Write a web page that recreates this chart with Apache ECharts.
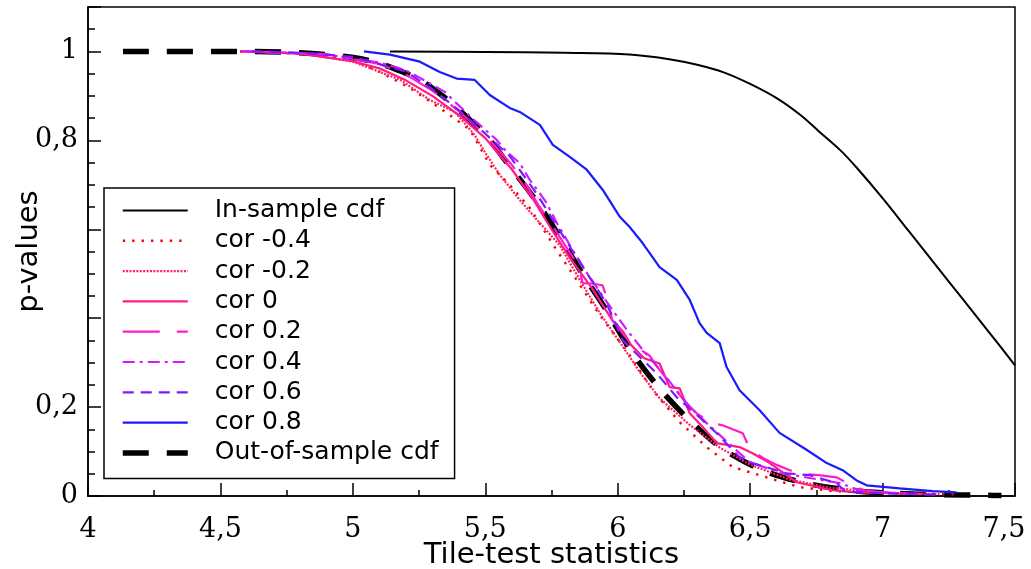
<!DOCTYPE html>
<html>
<head>
<meta charset="utf-8">
<script src="https://cdn.jsdelivr.net/npm/echarts@6/dist/echarts.min.js"></script>
<style>
html,body{margin:0;padding:0;background:#fff;}
#chart{width:1031px;height:569px;}
</style>
</head>
<body>
<div id="chart"></div>
<script>
// ---- Tick labels ----
const xTickValues = [4, 4.5, 5, 5.5, 6, 6.5, 7, 7.5];
const xTickLabels = ['4', '4,5', '5', '5,5', '6', '6,5', '7', '7,5'];
const yTickValues = [0, 0.2, 0.8, 1];
const yTickLabels = ['0', '0,2', '0,8', '1'];

// ---- Series names ----
const seriesNames = ['In-sample cdf', 'cor -0.4', 'cor -0.2', 'cor 0', 'cor 0.2', 'cor 0.4', 'cor 0.6', 'cor 0.8', 'Out-of-sample cdf'];

// ---- Series values [statistic, p-value] ----
const inSample = [[5.14,1.0],[5.5,0.999],[5.8,0.997],[6.045,0.993],[6.2,0.982],[6.3,0.970],[6.4,0.953],[6.5,0.927],[6.6,0.895],[6.69,0.857],[6.76,0.82],[6.84,0.778],[6.9,0.74],[7.0,0.67],[7.1,0.595],[7.2,0.52],[7.3,0.445],[7.4,0.37],[7.5,0.294]];

const corM04 = [[4.574,1.0],[4.8,0.995],[4.996,0.982],[5.102,0.954],[5.215,0.918],[5.328,0.873],[5.442,0.824],[5.517,0.745],[5.592,0.700],[5.668,0.648],[5.762,0.560],[5.857,0.475],[5.932,0.407],[5.989,0.362],[6.045,0.317],[6.132,0.238],[6.234,0.166],[6.336,0.110],[6.434,0.065],[6.6,0.035],[6.687,0.020],[6.811,0.011],[6.94,0.008],[7.09,0.006],[7.272,0.004]];

const corM02 = [[4.59,1.0],[4.8,0.996],[5.0,0.977],[5.18,0.936],[5.29,0.891],[5.385,0.864],[5.46,0.812],[5.498,0.774],[5.555,0.722],[5.63,0.666],[5.706,0.614],[5.78,0.565],[5.857,0.486],[5.932,0.412],[6.008,0.346],[6.083,0.279],[6.158,0.220],[6.272,0.160],[6.385,0.109],[6.498,0.071],[6.649,0.037],[6.8,0.019],[6.989,0.008],[7.215,0.004]];

const cor0 = [[4.58,1.0],[4.8,0.995],[5.0,0.978],[5.1,0.962],[5.2,0.935],[5.3,0.900],[5.4,0.857],[5.5,0.805],[5.55,0.77],[5.6,0.735],[5.68,0.668],[5.75,0.600],[5.82,0.535],[5.9,0.470],[5.98,0.395],[6.02,0.370],[6.05,0.340],[6.1,0.310],[6.158,0.298],[6.196,0.245],[6.234,0.242],[6.272,0.186],[6.321,0.155],[6.374,0.119],[6.46,0.110],[6.509,0.096],[6.536,0.087],[6.574,0.074],[6.675,0.031],[6.811,0.013],[6.9,0.008],[7.0,0.007],[7.1,0.005]];

const cor02 = [[4.6,1.0],[4.9,0.994],[5.1,0.972],[5.2,0.948],[5.3,0.912],[5.4,0.866],[5.5,0.812],[5.6,0.745],[5.65,0.705],[5.7,0.655],[5.75,0.612],[5.8,0.565],[5.85,0.52],[5.868,0.479],[5.9,0.478],[5.943,0.474],[5.958,0.447],[5.98,0.395],[6.03,0.357],[6.07,0.335],[6.12,0.316],[6.15,0.29],[6.19,0.26],[6.25,0.215],[6.3,0.185],[6.347,0.166],[6.396,0.159],[6.472,0.141],[6.5,0.105],[6.55,0.085],[6.6,0.07],[6.65,0.058],[6.687,0.050],[6.76,0.047],[6.826,0.042],[6.87,0.028],[6.93,0.013],[7.0,0.008],[7.15,0.004]];

const cor04 = [[4.58,1.0],[4.7,0.999],[4.9,0.992],[5.1,0.975],[5.196,0.959],[5.264,0.937],[5.347,0.909],[5.45,0.850],[5.543,0.801],[5.581,0.774],[5.63,0.749],[5.668,0.711],[5.706,0.681],[5.732,0.659],[5.77,0.614],[5.808,0.576],[5.83,0.553],[5.88,0.505],[5.958,0.437],[6.034,0.374],[6.094,0.329],[6.17,0.277],[6.272,0.200],[6.336,0.164],[6.42,0.118],[6.498,0.076],[6.623,0.051],[6.73,0.040],[6.838,0.029],[6.913,0.013],[7.0,0.008],[7.1,0.005]];

const cor06 = [[4.62,1.0],[4.8,0.997],[5.0,0.988],[5.2,0.955],[5.3,0.915],[5.4,0.868],[5.5,0.815],[5.592,0.765],[5.694,0.680],[5.781,0.597],[5.845,0.537],[5.958,0.433],[6.019,0.350],[6.147,0.276],[6.223,0.222],[6.309,0.177],[6.374,0.141],[6.46,0.087],[6.509,0.074],[6.638,0.051],[6.725,0.047],[6.826,0.029],[6.86,0.010],[7.0,0.006],[7.2,0.003]];

const cor08 = [[5.042,1.0],[5.14,0.993],[5.253,0.977],[5.328,0.954],[5.392,0.939],[5.46,0.936],[5.517,0.902],[5.592,0.873],[5.63,0.864],[5.706,0.835],[5.755,0.790],[5.819,0.763],[5.883,0.734],[5.943,0.689],[6.008,0.628],[6.045,0.605],[6.094,0.569],[6.158,0.515],[6.223,0.486],[6.272,0.441],[6.309,0.389],[6.336,0.367],[6.385,0.344],[6.411,0.290],[6.46,0.238],[6.536,0.193],[6.611,0.142],[6.713,0.104],[6.789,0.074],[6.849,0.058],[6.902,0.035],[6.94,0.024],[7.064,0.017],[7.189,0.011],[7.279,0.008]];

const outSample = [[4.132,1.0],[4.592,1.0],[4.8,0.997],[4.996,0.987],[5.09,0.975],[5.166,0.959],[5.253,0.936],[5.347,0.896],[5.442,0.846],[5.517,0.801],[5.574,0.756],[5.687,0.668],[5.781,0.583],[5.86,0.506],[5.955,0.420],[6.053,0.324],[6.158,0.242],[6.272,0.170],[6.404,0.103],[6.555,0.056],[6.709,0.029],[6.875,0.013],[7.053,0.006],[7.215,0.003],[7.396,0.0015],[7.449,0.001]];

const seriesData = [inSample, corM04, corM02, cor0, cor02, cor04, cor06, cor08, outSample];

// ---- Styles ----
const seriesStyles = [
  {color:'#000000', width:2, type:'solid', z:3, smooth:0.35},
  {color:'#ff0000', width:2.4, type:[2.4,7], z:3, smooth:false},
  {color:'#ff1f5a', width:2.2, type:[2,1.4], z:3, smooth:false},
  {color:'#ff1a85', width:2.2, type:'solid', z:3, smooth:false},
  {color:'#ff1acb', width:2.2, type:[37,17], z:3, smooth:false},
  {color:'#d21aff', width:2.2, type:[12,5,3,5], z:3, smooth:false},
  {color:'#7f1aff', width:2.2, type:[11,7], z:3, smooth:false},
  {color:'#1a1aff', width:2.2, type:'solid', z:3, smooth:false},
  {color:'#000000', width:5.5, type:[26,18], z:2, smooth:0.3}
];

function labelFor(values, labels, v) {
  for (let i = 0; i < values.length; i++) {
    if (Math.abs(values[i] - v) < 1e-9) return labels[i];
  }
  return '';
}

const chart = echarts.init(document.getElementById('chart'), null, {renderer:'canvas'});
const series = seriesNames.map((name, i) => ({
  name: name,
  type: 'line',
  data: seriesData[i],
  symbol: 'none',
  showSymbol: false,
  smooth: seriesStyles[i].smooth,
  z: seriesStyles[i].z,
  lineStyle: {color: seriesStyles[i].color, width: seriesStyles[i].width, type: seriesStyles[i].type, cap: 'butt'},
  itemStyle: {color: seriesStyles[i].color},
  emphasis: {disabled: true}
}));

const option = {
  animation: false,
  backgroundColor: '#ffffff',
  grid: {left: 88, right: 16, top: 7, bottom: 73, show: true, borderColor: '#000', borderWidth: 1.5, backgroundColor: 'transparent', containLabel: false, outerBoundsMode: 'none'},
  legend: {
    data: seriesNames,
    orient: 'vertical',
    left: 104,
    top: 188,
    padding: [10, 16, 13, 16],
    itemWidth: 65,
    itemHeight: 25,
    itemGap: 5.3,
    borderColor: '#000',
    borderWidth: 1.5,
    backgroundColor: '#fff',
    selectedMode: false,
    itemStyle: {opacity: 0},
    lineStyle: {width: 'inherit'},
    textStyle: {fontFamily: 'DejaVu Sans', fontSize: 25, color: '#000', lineHeight: 25, padding: [0, 0, 0, 22]}
  },
  xAxis: {
    type: 'value',
    min: 4, max: 7.5, interval: 0.5,
    name: 'Tile-test statistics',
    nameLocation: 'middle',
    nameGap: 45,
    nameMoveOverlap: false,
    nameTextStyle: {fontFamily: 'DejaVu Sans', fontSize: 29, color: '#000'},
    axisLine: {show: true, onZero: false, lineStyle: {color: '#000', width: 1.5}},
    axisTick: {show: true, inside: true, length: 13, lineStyle: {color: '#000', width: 1.5}},
    minorTick: {show: true, splitNumber: 2, length: 6, lineStyle: {color: '#000', width: 1.5}},
    splitLine: {show: false},
    axisLabel: {
      margin: 20,
      fontFamily: 'DejaVu Serif', fontSize: 27, color: '#000',
      formatter: function (v) {
        const t = labelFor(xTickValues, xTickLabels, v);
        if (Math.abs(v - 7.5) < 1e-9) return '{r|' + t + '}';
        return t;
      },
      rich: {r: {fontFamily: 'DejaVu Serif', fontSize: 27, color: '#000', padding: [0, 22, 0, 0]}}
    }
  },
  yAxis: [{
    type: 'value',
    min: 0, max: 1.1, interval: 0.2,
    name: 'p-values',
    nameLocation: 'middle',
    nameGap: 44,
    nameMoveOverlap: false,
    nameTextStyle: {fontFamily: 'DejaVu Sans', fontSize: 29, color: '#000'},
    axisLine: {show: true, onZero: false, lineStyle: {color: '#000', width: 1.5}},
    axisTick: {show: true, inside: true, length: 13, lineStyle: {color: '#000', width: 1.5}},
    splitLine: {show: false},
    axisLabel: {
      margin: 10,
      fontFamily: 'DejaVu Serif', fontSize: 27, color: '#000',
      formatter: function (v) { return labelFor(yTickValues, yTickLabels, v); }
    }
  }, {
    type: 'value',
    min: 0, max: 1.1, interval: 0.05,
    position: 'left',
    axisLine: {show: false},
    axisTick: {show: true, inside: true, length: 7, lineStyle: {color: '#000', width: 1.5}},
    axisLabel: {show: false},
    splitLine: {show: false}
  }],
  series: series
};
chart.setOption(option);
</script>
</body>
</html>
